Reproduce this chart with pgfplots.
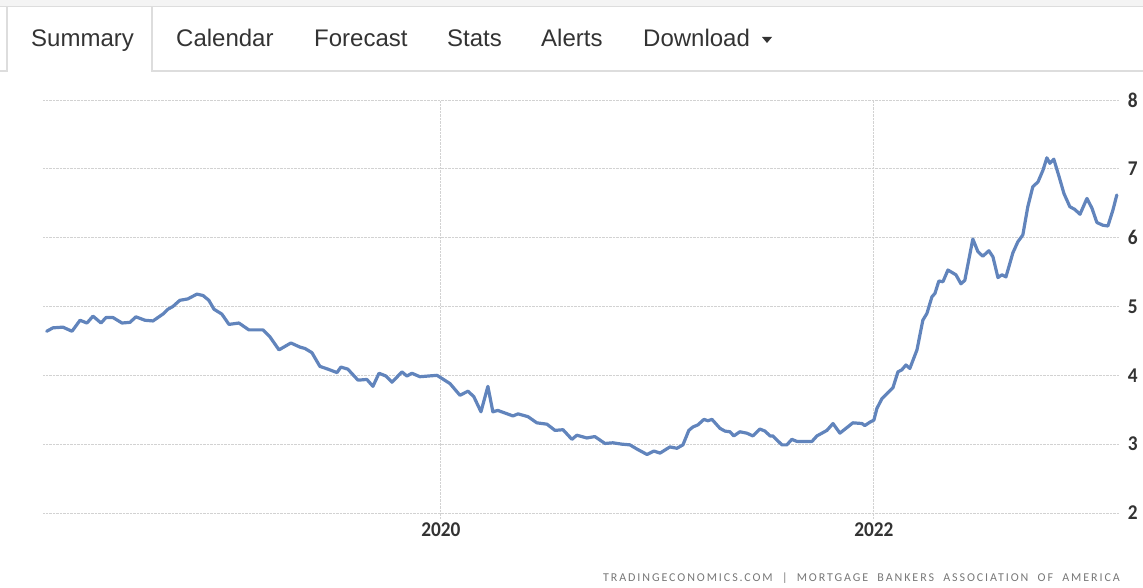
\documentclass[border=0pt]{standalone}
\usepackage{fontspec}
\setmainfont{Liberation Sans}
\newfontfamily\footfont[LetterSpace=16]{Carlito}
\newfontfamily\tickfont{Carlito}
\usepackage{pgfplots}
\pgfplotsset{compat=1.18}
\definecolor{tabline}{HTML}{DDDDDD}
\definecolor{topstrip}{HTML}{F4F4F4}
\definecolor{tabtext}{HTML}{333333}
\definecolor{ticktext}{HTML}{333333}
\definecolor{gridgray}{HTML}{D2D2D2}
\definecolor{seriesblue}{HTML}{6184BC}
\definecolor{foottext}{HTML}{777777}

\pgfplotstableread{
x y
2018.179 4.64
2018.208 4.69
2018.254 4.70
2018.296 4.64
2018.333 4.80
2018.365 4.76
2018.393 4.86
2018.430 4.76
2018.453 4.84
2018.485 4.84
2018.527 4.76
2018.564 4.77
2018.591 4.85
2018.633 4.80
2018.670 4.79
2018.716 4.89
2018.739 4.96
2018.762 5.00
2018.794 5.09
2018.831 5.11
2018.873 5.18
2018.901 5.16
2018.928 5.09
2018.952 4.96
2018.988 4.89
2019.021 4.74
2019.067 4.76
2019.113 4.66
2019.178 4.66
2019.210 4.56
2019.252 4.37
2019.307 4.47
2019.349 4.41
2019.372 4.39
2019.404 4.33
2019.441 4.13
2019.478 4.09
2019.520 4.04
2019.538 4.12
2019.570 4.09
2019.617 3.93
2019.658 3.94
2019.686 3.84
2019.714 4.03
2019.746 3.99
2019.774 3.90
2019.820 4.05
2019.843 3.99
2019.866 4.03
2019.903 3.98
2019.982 4.00
2020.042 3.88
2020.088 3.71
2020.125 3.77
2020.152 3.69
2020.185 3.47
2020.217 3.84
2020.240 3.47
2020.263 3.49
2020.333 3.41
2020.356 3.44
2020.402 3.40
2020.443 3.31
2020.490 3.29
2020.527 3.20
2020.564 3.21
2020.605 3.07
2020.628 3.13
2020.674 3.09
2020.711 3.11
2020.758 3.01
2020.794 3.02
2020.836 3.00
2020.873 2.99
2020.905 2.93
2020.952 2.85
2020.984 2.90
2021.012 2.87
2021.058 2.96
2021.090 2.94
2021.118 2.99
2021.145 3.20
2021.164 3.25
2021.187 3.28
2021.215 3.36
2021.233 3.34
2021.252 3.36
2021.289 3.23
2021.312 3.19
2021.335 3.18
2021.353 3.12
2021.381 3.18
2021.413 3.16
2021.441 3.12
2021.473 3.22
2021.497 3.19
2021.520 3.12
2021.533 3.12
2021.575 2.99
2021.598 2.99
2021.621 3.07
2021.644 3.04
2021.714 3.04
2021.737 3.12
2021.783 3.20
2021.811 3.30
2021.843 3.16
2021.875 3.24
2021.903 3.31
2021.945 3.30
2021.958 3.27
2021.982 3.32
2022.000 3.35
2022.014 3.52
2022.037 3.66
2022.065 3.75
2022.088 3.82
2022.111 4.05
2022.129 4.08
2022.148 4.15
2022.166 4.10
2022.199 4.37
2022.226 4.80
2022.245 4.90
2022.268 5.14
2022.282 5.19
2022.300 5.37
2022.319 5.36
2022.342 5.53
2022.379 5.46
2022.402 5.33
2022.420 5.38
2022.457 5.98
2022.480 5.80
2022.503 5.73
2022.531 5.81
2022.550 5.72
2022.573 5.42
2022.591 5.46
2022.610 5.43
2022.642 5.78
2022.665 5.94
2022.688 6.04
2022.711 6.45
2022.734 6.74
2022.758 6.81
2022.781 6.98
2022.799 7.16
2022.813 7.08
2022.831 7.14
2022.855 6.89
2022.878 6.64
2022.905 6.45
2022.928 6.41
2022.952 6.34
2022.984 6.57
2023.007 6.43
2023.030 6.22
2023.058 6.18
2023.081 6.17
2023.104 6.40
2023.122 6.62
}\mortgage

\begin{document}
\begin{tikzpicture}
\useasboundingbox (0pt,0pt) rectangle (1143pt,588pt);
% tab bar
\fill[topstrip] (0pt,581.5pt) rectangle (1143pt,588pt);
\draw[tabline, line width=1.2pt] (0pt,581.5pt) -- (1143pt,581.5pt);
\draw[tabline, line width=1.2pt] (0pt,517pt) -- (7pt,517pt) -- (7pt,581.5pt);
\draw[tabline, line width=1.2pt] (152pt,581.5pt) -- (152pt,517pt) -- (1143pt,517pt);
\begin{scope}[every node/.style={anchor=base west, inner sep=0pt, text=tabtext,
    font=\fontsize{24}{28}\selectfont}]
  \node at (31pt,541pt) {Summary};
  \node at (176pt,541pt) {Calendar};
  \node at (314pt,541pt) {Forecast};
  \node at (447pt,541pt) {Stats};
  \node at (541pt,541pt) {Alerts};
  \node at (643pt,541pt) {Download};
\end{scope}
\fill[tabtext] (762pt,551pt) -- (772pt,551pt) -- (767pt,545pt) -- cycle;

\begin{axis}[
    at={(43pt,75pt)}, anchor=south west,
    scale only axis, width=1076pt, height=413pt,
    xmin=2018.162, xmax=2023.132, ymin=2, ymax=8,
    axis line style={draw=none},
    ytick style={draw=none},
    xtick style={draw=gridgray, densely dotted, line width=0.9pt},
    xtick pos=bottom, tick align=outside, major tick length=5pt,
    xtick={2020,2022}, xticklabels={2020,2022},
    ytick={2,3,4,5,6,7,8}, yticklabels={2,3,4,5,6,7,8},
    ytick pos=right, yticklabel pos=right,
    /pgf/number format/assume math mode=true,
    ticklabel style={text=ticktext, font=\tickfont\bfseries\fontsize{21}{24}\selectfont, inner sep=0pt, xscale=0.92},
    yticklabel style={anchor=west, xshift=4pt},
    xticklabel style={anchor=north, yshift=-5pt},
    grid=major,
    grid style={densely dotted, gridgray, line width=0.9pt},
    clip=false,
]
\addplot[seriesblue, line width=3.2pt, line join=round, line cap=round] table[x=x, y=y] {\mortgage};
\end{axis}

\node[anchor=base east, inner sep=0pt, text=foottext, font=\footfont\fontsize{12}{14}\selectfont]
  at (1120pt,6.5pt) {TRADINGECONOMICS.COM \ | \ MORTGAGE \ BANKERS \ ASSOCIATION \ OF \ AMERICA};
\end{tikzpicture}
\end{document}
